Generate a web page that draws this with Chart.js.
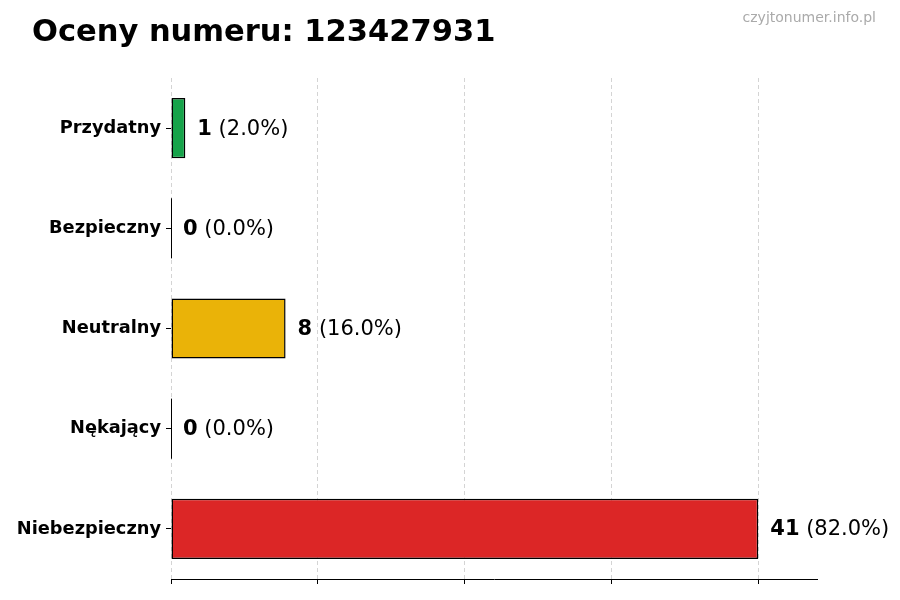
<!DOCTYPE html>
<html>
<head>
<meta charset="utf-8">
<script src="https://cdn.jsdelivr.net/npm/chart.js@4"></script>
<style>
  body { margin: 0; background: #fff; }
</style>
</head>
<body>
<canvas id="ocenyChart" width="900" height="600"></canvas>
<script>
// dane z wykresu
const kategorie = ['Przydatny', 'Bezpieczny', 'Neutralny', 'Nękający', 'Niebezpieczny'];
const liczby = [1, 0, 8, 0, 41];
const kolory = ['#16a34a', '#3b82f6', '#eab308', '#f97316', '#dc2626'];
const podzialkiX = [0, 10.25, 20.5, 30.75, 41];
const maksX = 45.1;

const razem = liczby.reduce((a, b) => a + b, 0);
const FONT = '"DejaVu Sans", sans-serif';

// tytuł, znak wodny i etykiety przy słupkach
const napisy = {
  id: 'napisy',
  afterDatasetsDraw(chart) {
    const ctx = chart.ctx;
    const meta = chart.getDatasetMeta(0);
    ctx.save();
    meta.data.forEach((bar, i) => {
      // słupek o wartości 0 - sama krawędź
      if (liczby[i] === 0) {
        ctx.strokeStyle = '#000';
        ctx.lineWidth = 1;
        ctx.beginPath();
        ctx.moveTo(bar.x + 0.5, bar.y - bar.height / 2);
        ctx.lineTo(bar.x + 0.5, bar.y + bar.height / 2);
        ctx.stroke();
      }
      let x = bar.x + 12;
      ctx.textBaseline = 'middle';
      ctx.fillStyle = '#000';
      ctx.font = 'bold 21px ' + FONT;
      const num = String(liczby[i]);
      ctx.fillText(num, x, bar.y + 1);
      x += ctx.measureText(num).width;
      ctx.font = '21px ' + FONT;
      ctx.fillText(' (' + (liczby[i] / razem * 100).toFixed(1) + '%)', x, bar.y + 1);
    });
    ctx.restore();
  },
  afterDraw(chart) {
    const ctx = chart.ctx;
    ctx.save();
    ctx.fillStyle = '#000';
    ctx.font = 'bold 30.5px ' + FONT;
    ctx.textBaseline = 'alphabetic';
    ctx.textAlign = 'left';
    ctx.fillText('Oceny numeru: 123427931', 32, 41);
    ctx.fillStyle = '#aaaaaa';
    ctx.font = '14px ' + FONT;
    ctx.textAlign = 'right';
    ctx.fillText('czyjtonumer.info.pl', 876, 22);
    ctx.restore();
  }
};

const ctxBar = document.getElementById('ocenyChart').getContext('2d');
new Chart(ctxBar, {
  type: 'bar',
  data: {
    labels: kategorie,
    datasets: [{
      data: liczby,
      backgroundColor: kolory,
      borderColor: '#000',
      borderWidth: 1.5,
      borderSkipped: false,
      barPercentage: 0.6,
      categoryPercentage: 1.0
    }]
  },
  options: {
    indexAxis: 'y',
    responsive: false,
    animation: false,
    layout: { padding: { top: 78, right: 83, bottom: 16, left: 0 } },
    plugins: {
      legend: { display: false },
      tooltip: { enabled: false }
    },
    scales: {
      x: {
        min: 0,
        max: maksX,
        afterBuildTicks: (scale) => { scale.ticks = podzialkiX.map(v => ({ value: v })); },
        ticks: { display: false },
        grid: {
          color: '#d4d4d4',
          lineWidth: 1,
          drawTicks: true,
          tickLength: 5,
          tickColor: '#000',
          tickBorderDash: []
        },
        border: { display: true, color: '#000', width: 1, dash: [4, 3] }
      },
      y: {
        afterFit: (scale) => { scale.width = 171; },
        ticks: {
          color: '#000',
          padding: 5,
          font: { family: FONT, size: 17.8, weight: 'bold' }
        },
        grid: {
          offset: false,
          drawOnChartArea: false,
          drawTicks: true,
          tickLength: 5,
          tickColor: '#000'
        },
        border: { display: false }
      }
    }
  },
  plugins: [napisy]
});
</script>
</body>
</html>
